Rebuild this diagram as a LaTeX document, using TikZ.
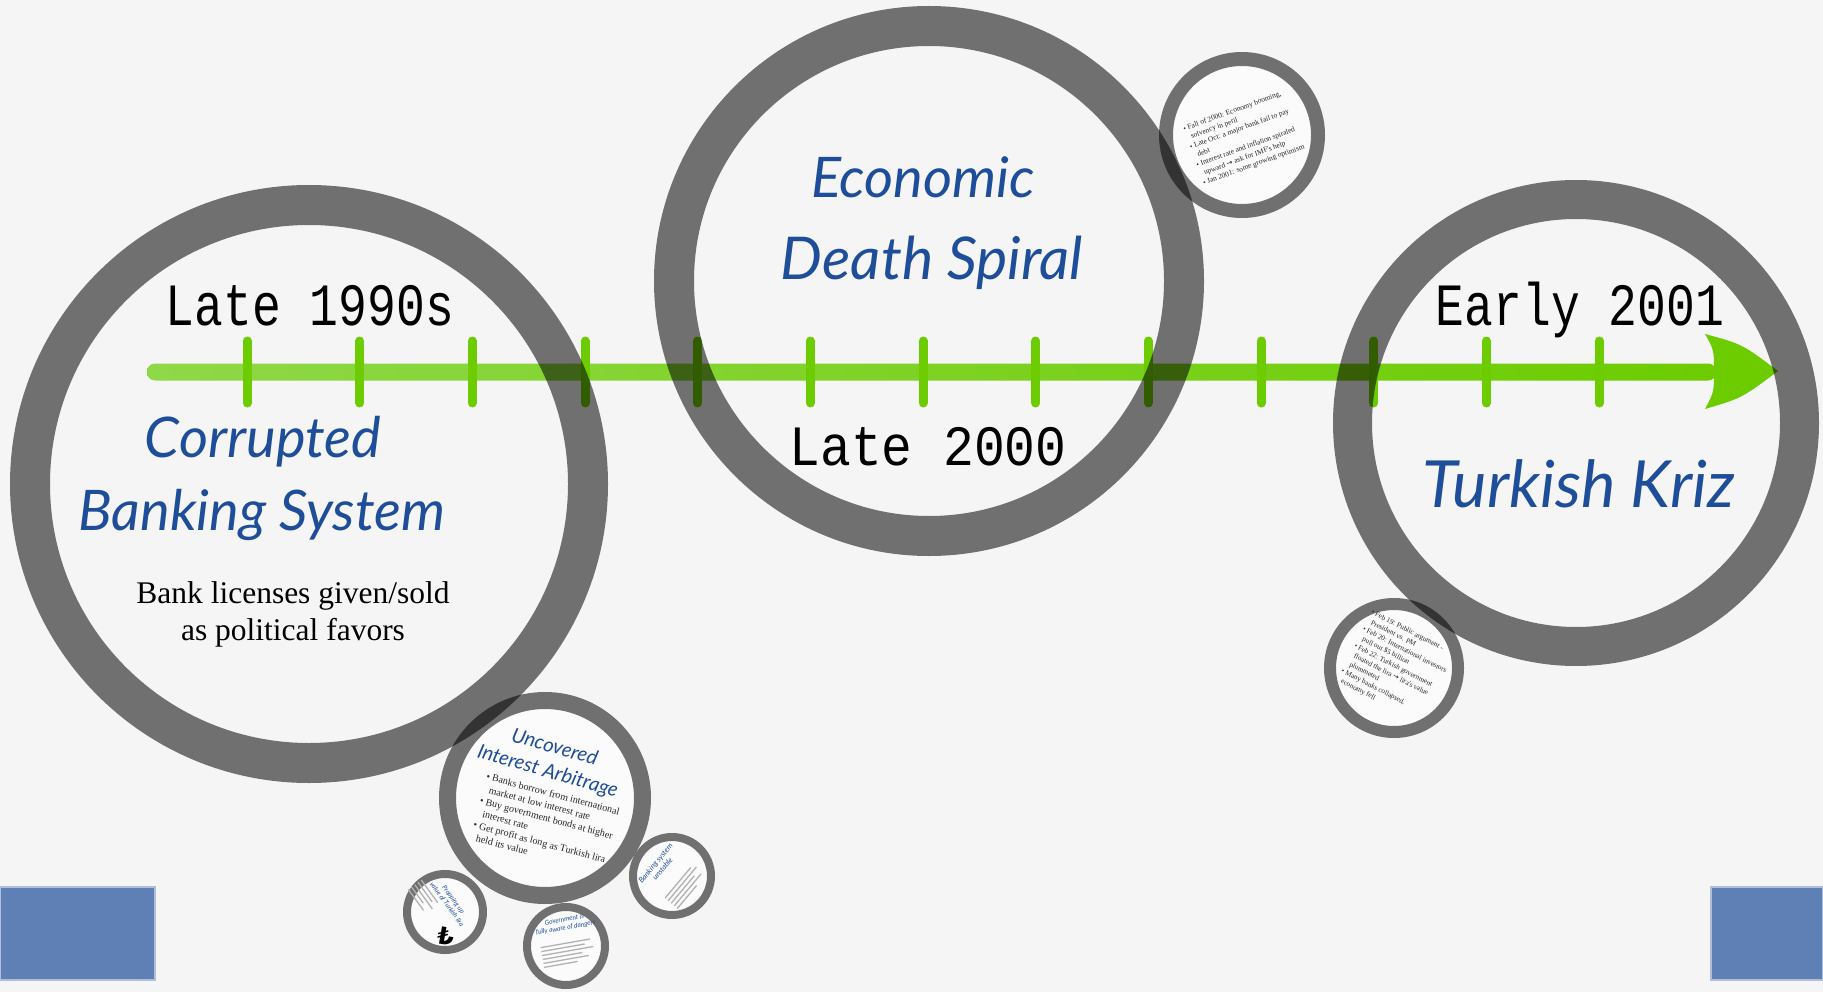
\documentclass[tikz,border=0pt]{standalone}
\usepackage{fontspec}
\usetikzlibrary{calc}
\newfontfamily\headfont{Lato}
\newfontfamily\datefont{Liberation Mono}
\newfontfamily\bodyfont{Liberation Serif}
\newfontfamily\symfont{DejaVu Sans}
\definecolor{headblue}{RGB}{30,77,153}
\definecolor{lineleft}{RGB}{143,216,72}
\definecolor{limetick}{RGB}{108,204,0}
\definecolor{paper}{RGB}{245,245,245}
\definecolor{boxblue}{RGB}{94,128,180}

\begin{document}
\begin{tikzpicture}
    [x=1pt, y=-1pt,
    ring/.style={circle, draw=black, draw opacity=0.54, inner sep=0pt},
    title/.style={text=headblue, font=\headfont\itshape\fontsize{56}{66}\selectfont},
    smalltitle/.style={text=headblue, font=\headfont\itshape\fontsize{6.6}{8}\selectfont, align=center},
    date/.style={font=\datefont\fontsize{60}{60}\selectfont},
    body/.style={font=\bodyfont\fontsize{31.5}{37}\selectfont},
    notes/.style={font=\bodyfont\fontsize{7.2}{9.4}\selectfont, align=left, text=black!85},
    tickmark/.style={draw=limetick, line width=9pt, line cap=round},
    scribble/.style={draw=black!30, line width=1.3pt}
    ]
    \useasboundingbox (0,0) rectangle (1823,992);
    \fill[paper] (0,0) rectangle (1823,992);

    % timeline
    \coordinate (tl start) at (147,363.5);
    \coordinate (tl end) at (1716,380.5);
    \coordinate (tl tip) at (1778,371);
    \shade[left color=lineleft, right color=limetick, rounded corners=8pt] (tl start) rectangle (tl end);
    \foreach \k in {0,...,12}
        \draw[tickmark] (247+112.67*\k,341) -- ++(0,62);
    \fill[limetick] (1705,334) .. controls (1742,344) .. (tl tip)
        .. controls (1742,398) .. (1705,409)
        .. controls (1714,392) .. (1714,371)
        .. controls (1714,350) .. (1705,334) -- cycle;

    % big circles
    \node[ring, line width=40pt, minimum size=558pt] (banking) at (309,484) {};
    \node[ring, line width=40pt, minimum size=510pt] (spiral) at (929,281) {};
    \node[ring, line width=39pt, minimum size=447pt] (kriz) at (1576,423) {};

    \node[date, anchor=base] (late90) at (310,325) {\scalebox{0.8}[1]{Late 1990s}};
    \node[title, anchor=base] (corr1) at (263,457) {Corrupted};
    \node[title, anchor=base] (corr2) at (262,530) {Banking System};
    \node[body, anchor=base] (lic1) at (293,603) {Bank licenses given/sold};
    \node[body, anchor=base] (lic2) at (293,640) {as political favors};

    \node[title, anchor=base] (econ1) at (923,198) {Economic};
    \node[title, anchor=base, font=\headfont\itshape\fontsize{59}{66}\selectfont] (econ2) at (932,280) {Death Spiral};
    \node[date, anchor=base, font=\datefont\fontsize{57}{57}\selectfont] (late00) at (928,465) {\scalebox{0.9}[1]{Late 2000}};

    \node[date, anchor=base] (early01) at (1580,325) {\scalebox{0.8}[1]{Early 2001}};
    \node[title, anchor=base, font=\headfont\itshape\fontsize{65}{70}\selectfont] (kriz1) at (1579,507) {Turkish Kriz};

    % small circles
    \coordinate (fall c) at (1242,135);
    \fill[white!60!paper] (fall c) circle (70pt);
    \node[ring, line width=14pt, minimum size=152pt] (fall) at (fall c) {};
    \node[notes, rotate=20, font=\bodyfont\fontsize{7.4}{9.6}\selectfont] (fall txt) at (1244,138) {%
        \textbullet\ Fall of 2000: Economy booming,\\
        \phantom{\textbullet\ }solvency in peril\\
        \textbullet\ Late Oct: a major bank fail to pay\\
        \phantom{\textbullet\ }debt\\
        \textbullet\ Interest rate and inflation spiraled\\
        \phantom{\textbullet\ }upward {\symfont →} ask for IMF's help\\
        \textbullet\ Jan 2001: some growing optimism};

    \coordinate (feb c) at (1394,668);
    \fill[white!60!paper] (feb c) circle (58pt);
    \node[ring, line width=12pt, minimum size=128pt] (feb) at (feb c) {};
    \node[notes, rotate=-27] (feb txt) at (1396,667) {%
        \textbullet\ Feb 19: Public argument -\\
        \phantom{\textbullet\ }President vs. PM\\
        \textbullet\ Feb 20: International investors\\
        \phantom{\textbullet\ }pull out \$5 billion\\
        \textbullet\ Feb 22: Turkish government\\
        \phantom{\textbullet\ }floated the lira {\symfont →} lira's value\\
        \phantom{\textbullet\ }plummeted\\
        \textbullet\ Many banks collapsed,\\
        \phantom{\textbullet\ }economy fell};

    \coordinate (arb c) at (545,798);
    \fill[white!60!paper] (arb c) circle (89pt);
    \node[ring, line width=17pt, minimum size=195pt] (arb) at (arb c) {};
    \node[smalltitle, rotate=-16, font=\headfont\itshape\fontsize{20}{25}\selectfont] (arb title) at (551,760) {Uncovered\\Interest Arbitrage};
    \node[notes, rotate=-15, font=\bodyfont\fontsize{10}{12.5}\selectfont] (arb txt) at (545,824) {%
        \textbullet\ Banks borrow from international\\
        \phantom{\textbullet\ }market at low interest rate\\
        \textbullet\ Buy government bonds at higher\\
        \phantom{\textbullet\ }interest rate\\
        \textbullet\ Get profit as long as Turkish lira\\
        \phantom{\textbullet\ }held its value};

    \coordinate (prop c) at (445,912);
    \fill[white!60!paper] (prop c) circle (34pt);
    \node[ring, line width=8pt, minimum size=76pt] (prop) at (prop c) {};
    \node[smalltitle, rotate=-54] (prop title) at (450,902) {Propping up\\value of Turkish lira};
    \node[rotate=-10, font=\symfont\bfseries\fontsize{24}{24}\selectfont] (lira) at (446,936) {₺};
    \begin{scope}[shift={(423,896)}, rotate=-54]
        \foreach \w [count=\i] in {28,24,30,20,26}
            \draw[scribble] (-14,\i*4-12) -- ++(\w,0);
    \end{scope}

    \coordinate (gov c) at (566,946);
    \fill[white!60!paper] (gov c) circle (35pt);
    \node[ring, line width=8pt, minimum size=78pt] (gov) at (gov c) {};
    \node[smalltitle, rotate=10] (gov title) at (565,924) {Government is\\fully aware of dangers};
    \begin{scope}[shift={(568,953)}, rotate=10]
        \foreach \w [count=\i] in {50,44,52,40,46,34}
            \draw[scribble] (-26,\i*4-14) -- ++(\w,0);
    \end{scope}

    \coordinate (bank c) at (672,876);
    \fill[white!60!paper] (bank c) circle (35pt);
    \node[ring, line width=8pt, minimum size=78pt] (bank) at (bank c) {};
    \node[smalltitle, rotate=50, font=\headfont\itshape\fontsize{7.5}{9}\selectfont] (bank title) at (659,866) {Banking system\\unstable};
    \begin{scope}[shift={(684,888)}, rotate=50]
        \foreach \w [count=\i] in {40,44,36,42,30}
            \draw[scribble] (-20,\i*4-12) -- ++(\w,0);
    \end{scope}

    % corner boxes
    \fill[boxblue, draw=boxblue!50!white, line width=1.5pt] (0,887) rectangle (155,980);
    \fill[boxblue, draw=boxblue!50!white, line width=1.5pt] (1711,887) rectangle (1823,980);
\end{tikzpicture}
\end{document}
